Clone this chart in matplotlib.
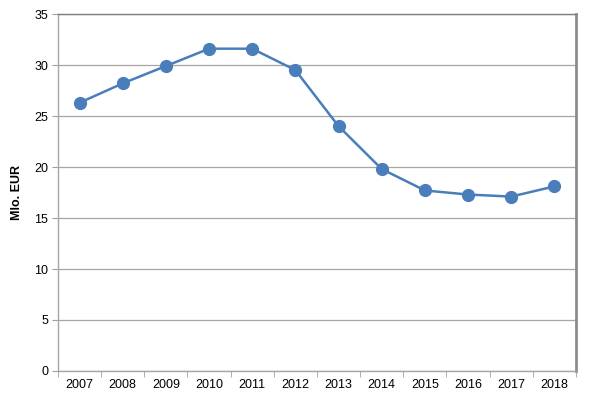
"""Recreate the Mlo. EUR yearly line chart."""

import matplotlib
matplotlib.use("Agg")
import matplotlib.pyplot as plt
from matplotlib.ticker import FixedLocator, NullFormatter

years = ["2007", "2008", "2009", "2010", "2011", "2012",
         "2013", "2014", "2015", "2016", "2017", "2018"]
values = [26.3, 28.2, 29.9, 31.6, 31.6, 29.5,
          24.0, 19.8, 17.7, 17.3, 17.1, 18.1]
y_ticks = [0, 5, 10, 15, 20, 25, 30, 35]

plt.rcParams["font.family"] = ["Liberation Sans", "DejaVu Sans"]

fig = plt.figure(figsize=(5.91, 3.97), dpi=100)
ax = fig.add_axes([0.0981, 0.0655, 0.8765, 0.8992])

x = range(len(years))
ax.plot(x, values, color="#4a7ebb", linewidth=1.8, marker="o",
        markersize=8.5, markerfacecolor="#4a7ebb", markeredgecolor="#4a7ebb",
        zorder=3)

ax.set_xlim(-0.5, len(years) - 0.5)
ax.set_ylim(0, 35)
ax.set_yticks(y_ticks)
ax.set_xticks(list(x))
ax.set_xticklabels(years)
ax.tick_params(axis="x", length=0, labelsize=9, pad=6)
ax.xaxis.set_minor_locator(FixedLocator([i - 0.5 for i in range(len(years) + 1)]))
ax.xaxis.set_minor_formatter(NullFormatter())
ax.tick_params(axis="x", which="minor", length=4, color="#a0a0a0", direction="out")
ax.tick_params(axis="y", length=4, color="#a0a0a0", labelsize=9, pad=3)

ax.grid(axis="y", color="#a6a6a6", linewidth=0.9)
ax.set_axisbelow(True)

for side in ["left", "bottom"]:
    ax.spines[side].set_color("#a6a6a6")
    ax.spines[side].set_linewidth(1.0)
ax.spines["top"].set_color("#7f7f7f")
ax.spines["top"].set_linewidth(1.0)
ax.spines["right"].set_color("#8c8c8c")
ax.spines["right"].set_linewidth(2.0)

ax.set_ylabel("Mlo. EUR", fontsize=9, fontweight="bold", labelpad=8)

fig.savefig("out.png", dpi=100)
plt.close(fig)
